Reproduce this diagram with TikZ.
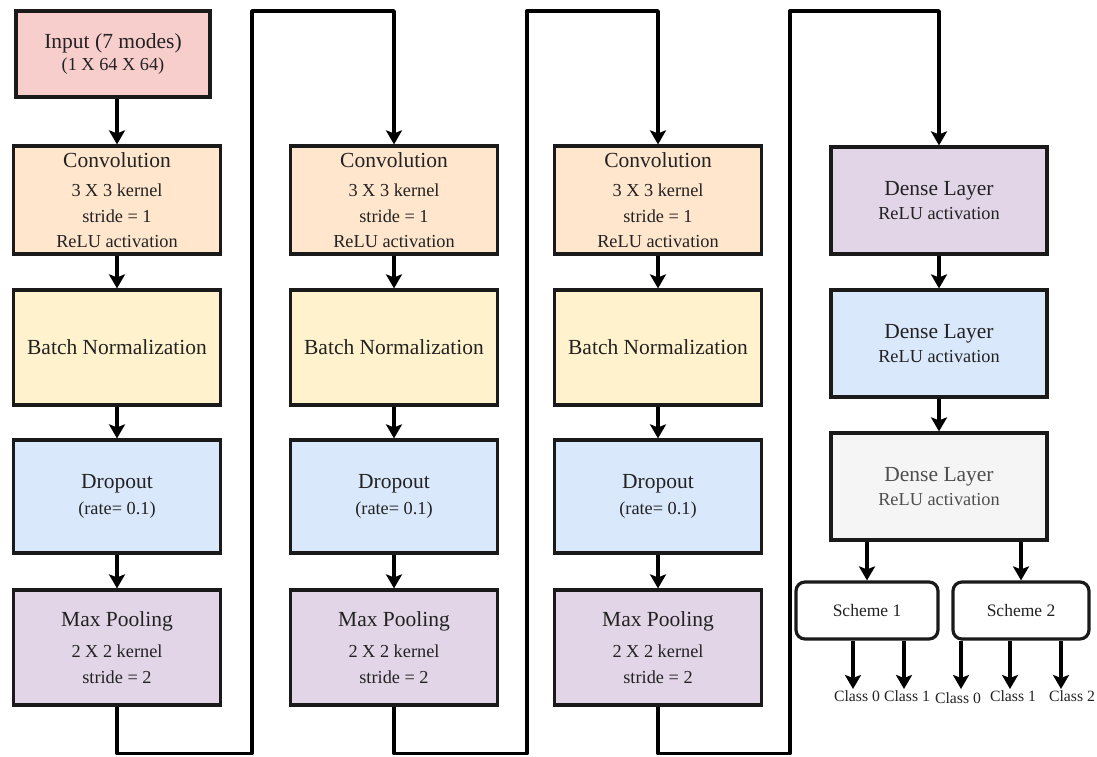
\documentclass[tikz,border=0pt]{standalone}
\usepackage{fontspec}
\setmainfont{Liberation Serif}
\usetikzlibrary{arrows.meta,calc}
\definecolor{cpink}{HTML}{F8CECC}
\definecolor{corange}{HTML}{FFE6CC}
\definecolor{cyellow}{HTML}{FFF2CC}
\definecolor{cblue}{HTML}{DAE8FC}
\definecolor{cpurple}{HTML}{E1D5E7}
\definecolor{cgray}{HTML}{F5F5F5}
\definecolor{txt}{HTML}{222222}
\definecolor{bord}{HTML}{1A1A1A}
\begin{document}
\begin{tikzpicture}[x=1pt,y=-1pt,
  box/.style={draw=bord, line width=3.2pt, fill=#1, align=center, text=txt, inner sep=0pt,
              font=\fontsize{18.3}{25.5}\selectfont},
  colbox/.style={box=#1, minimum width=207},
  arr/.style={draw=black, line width=3.4pt, line join=round, -{Stealth[length=14pt,width=16pt,inset=3pt]}},
  scheme/.style={draw=bord, line width=3.2pt, fill=white, rounded corners=9pt, text=txt,
                 font=\fontsize{17.5}{20}\selectfont, minimum height=57, inner sep=0pt},
  cls/.style={text=txt, font=\fontsize{15.7}{18}\selectfont, inner sep=1pt, anchor=north}
]
\useasboundingbox (0,0) rectangle (1097,757);
\newcommand{\ttext}[1]{{\fontsize{21.5}{24}\selectfont #1}}

% column 1
\node[box=cpink, minimum width=194, minimum height=86] (in) at (113,54)
  {\ttext{Input (7 modes)}\\[-3pt](1 X 64 X 64)};
\node[colbox=corange, minimum height=108] (conv1) at (117,200)
  {\ttext{Convolution}\\[4pt]3 X 3 kernel\\stride = 1\\ReLU activation};
\node[colbox=cyellow, minimum height=115] (bn1) at (117,347.5) {\ttext{Batch Normalization}};
\node[colbox=cblue, minimum height=113] (dr1) at (117,496.5) {\ttext{Dropout}\\[1pt](rate= 0.1)};
\node[colbox=cpurple, minimum height=115] (mp1) at (117,647.5)
  {\ttext{Max Pooling}\\[6pt]2 X 2 kernel\\stride = 2};

% column 2
\node[colbox=corange, minimum height=108] (conv2) at (394,200)
  {\ttext{Convolution}\\[4pt]3 X 3 kernel\\stride = 1\\ReLU activation};
\node[colbox=cyellow, minimum height=115] (bn2) at (394,347.5) {\ttext{Batch Normalization}};
\node[colbox=cblue, minimum height=113] (dr2) at (394,496.5) {\ttext{Dropout}\\[1pt](rate= 0.1)};
\node[colbox=cpurple, minimum height=115] (mp2) at (394,647.5)
  {\ttext{Max Pooling}\\[6pt]2 X 2 kernel\\stride = 2};

% column 3
\node[colbox=corange, minimum height=108] (conv3) at (658,200)
  {\ttext{Convolution}\\[4pt]3 X 3 kernel\\stride = 1\\ReLU activation};
\node[colbox=cyellow, minimum height=115] (bn3) at (658,347.5) {\ttext{Batch Normalization}};
\node[colbox=cblue, minimum height=113] (dr3) at (658,496.5) {\ttext{Dropout}\\[1pt](rate= 0.1)};
\node[colbox=cpurple, minimum height=115] (mp3) at (658,647.5)
  {\ttext{Max Pooling}\\[6pt]2 X 2 kernel\\stride = 2};

% dense column
\node[box=cpurple, minimum width=216, minimum height=107] (d1) at (939,200.5)
  {\ttext{Dense Layer}\\[-2pt]ReLU activation};
\node[box=cblue, minimum width=216, minimum height=107] (d2) at (939,343.5)
  {\ttext{Dense Layer}\\[-2pt]ReLU activation};
\node[box=cgray, minimum width=216, minimum height=107, text=txt!80] (d3) at (939,486.5)
  {\ttext{Dense Layer}\\[-2pt]ReLU activation};

\node[scheme, minimum width=142] (s1) at (867,610.5) {Scheme 1};
\node[scheme, minimum width=136] (s2) at (1021,610.5) {Scheme 2};

\node[cls] (c10) at (857,689) {Class 0};
\node[cls] (c11) at (907,689) {Class 1};
\node[cls] (c20) at (958,691) {Class 0};
\node[cls] (c21) at (1013,689) {Class 1};
\node[cls] (c22) at (1072,689) {Class 2};

% arrows within columns
\draw[arr] (in.south -| conv1.north) -- (conv1.north);
\foreach \i in {1,2,3}{
  \draw[arr] (conv\i) -- (bn\i);
  \draw[arr] (bn\i) -- (dr\i);
  \draw[arr] (dr\i) -- (mp\i);
}
\draw[arr] (d1) -- (d2);
\draw[arr] (d2) -- (d3);

% loops between columns
\draw[arr] (mp1.south) -- ++(0,47) -| (252,11) -| (conv2.north);
\draw[arr] (mp2.south) -- ++(0,47) -| (527,11) -| (conv3.north);
\draw[arr] (mp3.south) -- ++(0,47) -| (790,11) -| (d1.north);

% dense to schemes
\draw[arr] (d3.south -| s1.north) -- (s1.north);
\draw[arr] (d3.south -| s2.north) -- (s2.north);

% schemes to classes
\coordinate (a10) at ($(c10.north)+(-4,0)$);
\coordinate (a11) at ($(c11.north)+(-3,0)$);
\coordinate (a20) at ($(c20.north)+(3,-2)$);
\coordinate (a21) at ($(c21.north)+(-3,0)$);
\coordinate (a22) at ($(c22.north)+(-11,0)$);
\draw[arr] (s1.south -| a10) -- (a10);
\draw[arr] (s1.south -| a11) -- (a11);
\draw[arr] (s2.south -| a20) -- (a20);
\draw[arr] (s2.south -| a21) -- (a21);
\draw[arr] (s2.south -| a22) -- (a22);
\end{tikzpicture}
\end{document}
